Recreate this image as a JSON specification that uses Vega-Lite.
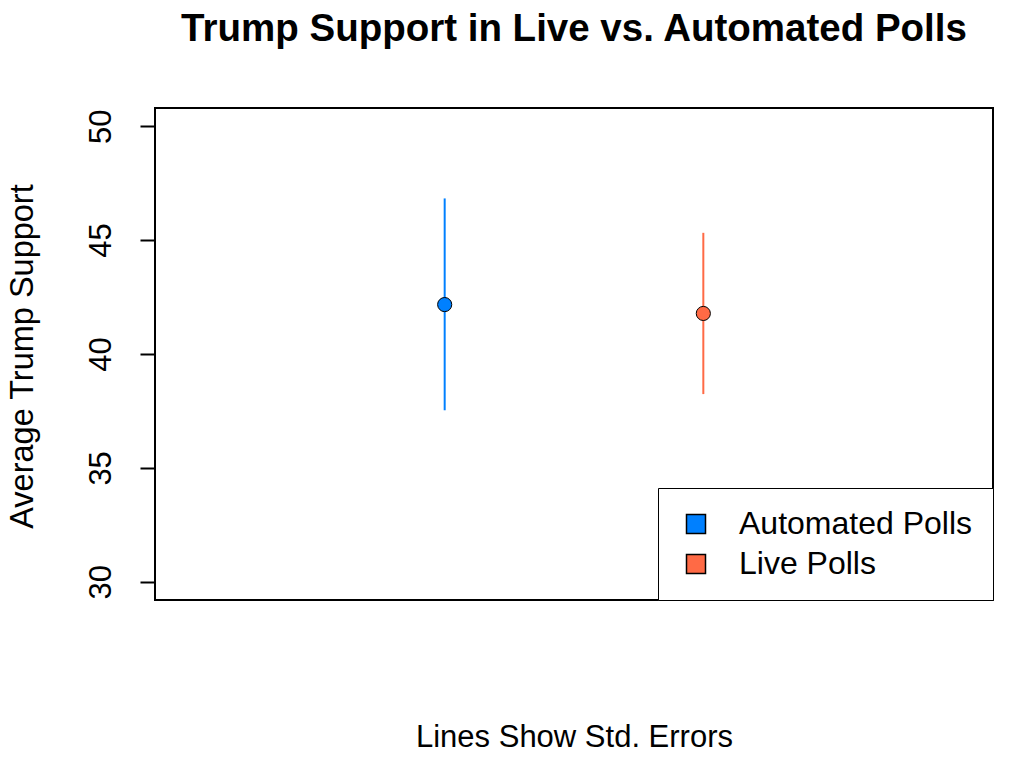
{
  "$schema": "https://vega.github.io/schema/vega-lite/v6.json",
  "width": 838,
  "height": 492,
  "autosize": "none",
  "padding": {"left": 155, "top": 108, "right": 27, "bottom": 158},
  "background": "white",
  "title": {
    "text": "Trump Support in Live vs. Automated Polls",
    "font": "Liberation Sans",
    "fontSize": 38.5,
    "fontWeight": "bold",
    "color": "black",
    "anchor": "middle",
    "frame": "group",
    "baseline": "alphabetic",
    "offset": 29
  },
  "config": {
    "view": {"stroke": "black", "strokeWidth": 2},
    "font": "Liberation Sans"
  },
  "data": {
    "values": [
      {"type": "Automated Polls", "series": "Automated Polls", "x": 1, "mean": 42.17, "lo": 37.53, "hi": 46.83},
      {"type": "Live Polls", "series": "Live Polls", "x": 2, "mean": 41.78, "lo": 38.24, "hi": 45.32}
    ]
  },
  "encoding": {
    "x": {
      "field": "x",
      "type": "quantitative",
      "scale": {"domain": [-0.12, 3.12], "nice": false, "zero": false},
      "axis": {
        "labels": false,
        "ticks": false,
        "domain": false,
        "grid": false,
        "title": "Lines Show Std. Errors",
        "titleFont": "Liberation Sans",
        "titleFontSize": 31,
        "titleFontWeight": "normal",
        "titleColor": "black",
        "titleBaseline": "alphabetic",
        "titleAlign": "center",
        "titleX": 419,
        "titleY": 146
      }
    }
  },
  "layer": [
    {
      "mark": {"type": "rule", "strokeWidth": 2},
      "encoding": {
        "y": {
          "field": "lo",
          "type": "quantitative",
          "scale": {"domain": [29.2, 50.8], "nice": false, "zero": false},
          "axis": {
            "values": [30, 35, 40, 45, 50],
            "grid": false,
            "domain": false,
            "tickSize": 15,
            "tickWidth": 2,
            "tickColor": "black",
            "labelAngle": -90,
            "labelAlign": "center",
            "labelBaseline": "bottom",
            "labelFont": "Liberation Sans",
            "labelFontSize": 31,
            "labelColor": "black",
            "labelPadding": 23,
            "title": "Average Trump Support",
            "titleFont": "Liberation Sans",
            "titleFontSize": 32.5,
            "titleFontWeight": "normal",
            "titleColor": "black",
            "titleAngle": -90,
            "titleAlign": "center",
            "titleBaseline": "alphabetic",
            "titleX": -123,
            "titleY": 248
          }
        },
        "y2": {"field": "hi"},
        "stroke": {
          "field": "series",
          "type": "nominal",
          "scale": {"range": ["#0080FF", "#FF6A45"]},
          "legend": null
        }
      }
    },
    {
      "mark": {"type": "point", "filled": true, "size": 200, "stroke": "black", "strokeWidth": 1, "opacity": 1},
      "encoding": {
        "y": {"field": "mean", "type": "quantitative"},
        "fill": {
          "field": "type",
          "type": "nominal",
          "scale": {"domain": ["Automated Polls", "Live Polls"], "range": ["#0080FF", "#FF6A45"]},
          "legend": {
            "title": null,
            "orient": "bottom-right",
            "offset": 0,
            "symbolType": "square",
            "symbolSize": 361,
            "symbolStrokeColor": "black",
            "symbolStrokeWidth": 1.5,
            "symbolOpacity": 1,
            "symbolOffset": 2,
            "labelFont": "Liberation Sans",
            "labelFontSize": 32,
            "labelColor": "black",
            "labelOffset": 27,
            "labelLimit": 500,
            "rowPadding": 8,
            "padding": 20,
            "strokeColor": "black",
            "fillColor": "white"
          }
        }
      }
    }
  ]
}
